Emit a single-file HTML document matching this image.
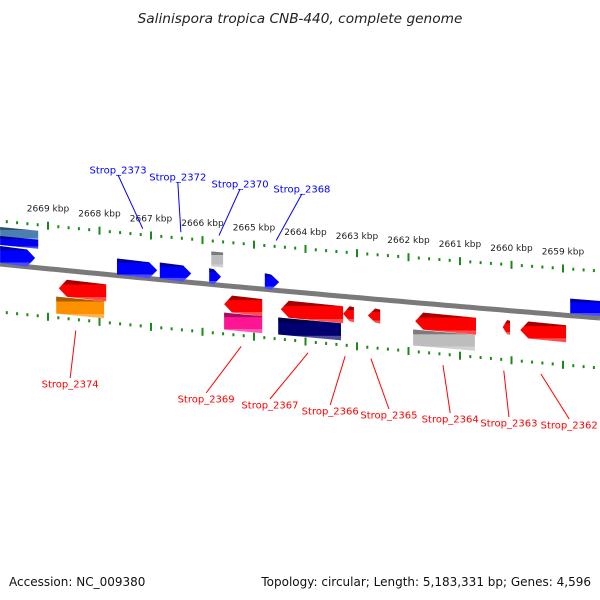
<!DOCTYPE html>
<html><head><meta charset="utf-8"><style>
body{margin:0;background:#fff;width:600px;height:600px;overflow:hidden}
svg{display:block}
text{font-family:"DejaVu Sans","Liberation Sans",sans-serif}
</style></head><body>
<svg id="chart" width="600" height="600" viewBox="0 0 600 600">
<defs>
<linearGradient id="gsh" x1="0" y1="0" x2="0" y2="1">
<stop offset="0" stop-color="#000" stop-opacity="0.35"/><stop offset="0.22" stop-color="#000" stop-opacity="0.35"/>
<stop offset="0.23" stop-color="#000" stop-opacity="0"/><stop offset="0.8" stop-color="#fff" stop-opacity="0"/>
<stop offset="0.81" stop-color="#fff" stop-opacity="0.3"/><stop offset="1" stop-color="#fff" stop-opacity="0.3"/>
</linearGradient>
</defs>
<text x="300" y="23" text-anchor="middle" font-size="13.7" font-style="italic" fill="#222">Salinispora tropica CNB-440, complete genome</text>
<path id="bb" fill="none" stroke="#7a7a7a" stroke-width="5"/>
<g id="ticks"></g><g id="genes"></g><g id="labels"></g>
<text x="9" y="586" font-size="12" fill="#111">Accession: NC_009380</text>
<text x="591" y="586" font-size="12" text-anchor="end" fill="#111">Topology: circular; Length: 5,183,331 bp; Genes: 4,596</text>
</svg>
<script>
const kbpTicks=[2669,2668,2667,2666,2665,2664,2663,2662,2661,2660,2659];
const geneStart=[2669.93,2669.93,2669.93,2667.66,2666.83,2665.83,2665.87,2664.79,2658.86,2668.79,2668.84,2665.58,2665.58,2664.48,2664.53,2663.27,2662.79,2661.87,2661.91,2660.17,2659.83];
const geneEnd=[2669.19,2669.19,2669.25,2666.88,2666.22,2665.60,2665.64,2664.51,2658.20,2667.87,2667.91,2664.84,2664.84,2663.27,2663.31,2663.06,2662.55,2660.69,2660.71,2660.03,2658.94];
const geneColor=["#4a7fb0","#0000ee","#0000ff","#0000ff","#0000ff","#bdbdbd","#0000ff","#0000ff","#0000ff","#ff0000","#ff9000","#ff0000","#ff1493","#ff0000","#000070","#ff0000","#ff0000","#ff0000","#bdbdbd","#ff0000","#ff0000"];
const geneLane=[-37,-28,-18,-17,-17,-33,-16,-16,-17,10,27,10,27,10,27,10,10,10,27,10,10];
const geneHeight=[10,9,17,16,16,15,15,15,15,17,17,17,17,17,17,15,14,17,16,14,17];
const geneDir=[0,0,1,1,1,0,1,1,0,-1,0,-1,0,-1,0,-1,-1,-1,0,-1,-1];
const blueLabels=["Strop_2373","Strop_2372","Strop_2370","Strop_2368"];
const blueLabelKb=[2667.64,2666.48,2665.27,2664.07];
const blueTargetKb=[2667.16,2666.42,2665.68,2664.57];
const blueLabelY=[170,177,184,189];
const redLabels=["Strop_2374","Strop_2369","Strop_2367","Strop_2366","Strop_2365","Strop_2364","Strop_2363","Strop_2362"];
const redLabelKb=[2668.57,2665.93,2664.69,2663.52,2662.38,2661.19,2660.05,2658.88];
const redTargetKb=[2668.46,2665.25,2663.95,2663.23,2662.73,2661.33,2660.15,2659.43];
const redLabelY=[384,399,405,411,415,419,423,425];

const ns="http://www.w3.org/2000/svg";
const X=kb=>48+(2669-kb)*51.5;
const yTop=x=>221+0.1*x-0.0000278*x*x;
const yBB=x=>264+0.1*x-0.0000167*x*x;
const yBot=x=>312+0.1*x-0.000011*x*x;
function mk(t,a,p){const e=document.createElementNS(ns,t);for(const k in a)e.setAttribute(k,a[k]);p.appendChild(e);return e;}
let d="M0 "+yBB(0);for(let x=5;x<=600;x+=5)d+=" L"+x+" "+yBB(x).toFixed(1);
document.getElementById('bb').setAttribute('d',d);
const tg=document.getElementById('ticks');
for(let kb=2670.2;kb>=2658;kb-=0.2){
  const r=Math.round(kb*5)/5,x=X(r),maj=Math.abs(r-Math.round(r))<0.01;
  [yTop,yBot].forEach((f,i)=>{
    const y=f(x);
    const e=mk('rect',{x:x-1,y:maj?y-4:y-1.5,width:2,height:maj?8:3,fill:'#1a8a1a'},tg);
    
    
  });
}
kbpTicks.forEach(k=>{
  const x=X(k);
  const t=mk('text',{x:x,y:yTop(x)-14,'font-size':9,'text-anchor':'middle',fill:'#222'},tg);
  t.textContent=k+" kbp";
  
  
});
const gg=document.getElementById('genes');
geneStart.forEach((s,i)=>{
  const x1=Math.min(X(s),X(geneEnd[i])),x2=Math.max(X(s),X(geneEnd[i]));
  const h=geneHeight[i],o=geneLane[i];
  const y1=yBB(x1)+o,y2=yBB(x2)+o,hd=Math.min(8,(x2-x1)*0.6);
  let pts;
  if(geneDir[i]===1)pts=[[x1,y1],[x2-hd,y2],[x2,y2+h/2],[x2-hd,y2+h],[x1,y1+h]];
  else if(geneDir[i]===-1)pts=[[x1+hd,y1],[x2,y2],[x2,y2+h],[x1+hd,y1+h],[x1,y1+h/2]];
  else pts=[[x1,y1],[x2,y2],[x2,y2+h],[x1,y1+h]];
  const ps=pts.map(p=>p[0].toFixed(1)+","+p[1].toFixed(1)).join(" ");
  const g=mk('g',{},gg);
  
  
  mk('polygon',{points:ps,fill:geneColor[i]},g);
  mk('polygon',{points:ps,fill:'url(#gsh)'},g);
});
const lg=document.getElementById('labels');
blueLabels.forEach((l,i)=>{
  const tx=X(blueTargetKb[i]),lx=X(blueLabelKb[i]),ly=blueLabelY[i];
  const ln=mk('line',{x1:tx,y1:yTop(tx)-6,x2:lx,y2:ly+5,stroke:'#0000ff','stroke-width':1},lg);
  
  
  const t=mk('text',{x:lx,y:ly+3.5,'font-size':10,'text-anchor':'middle',fill:'#0000ff'},lg);
  t.textContent=l;
  
  
});
redLabels.forEach((l,i)=>{
  const tx=X(redTargetKb[i]),lx=X(redLabelKb[i]),ly=redLabelY[i];
  const ln=mk('line',{x1:tx,y1:yBot(tx)+11,x2:lx,y2:ly-6,stroke:'#ff0000','stroke-width':1},lg);
  
  
  const t=mk('text',{x:lx,y:ly+3.5,'font-size':10,'text-anchor':'middle',fill:'#ff0000'},lg);
  t.textContent=l;
  
  
});
</script>
</body></html>
